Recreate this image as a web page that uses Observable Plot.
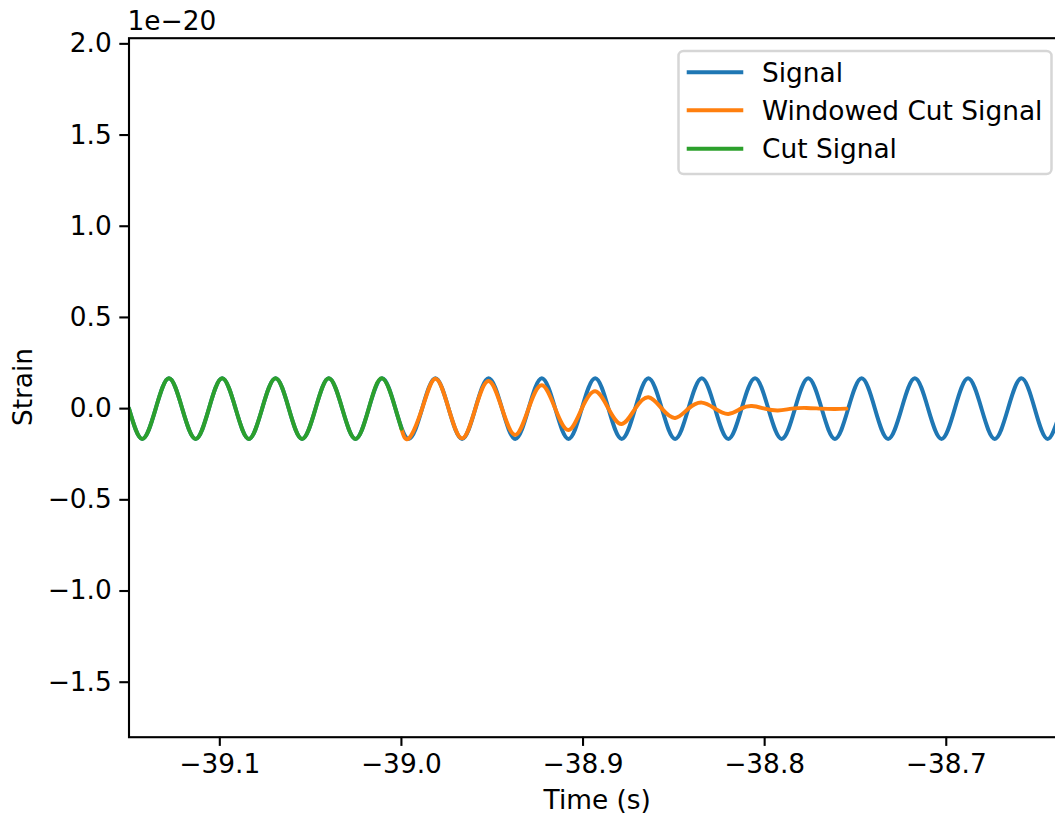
<!DOCTYPE html>
<html>
<head>
<meta charset="utf-8">
<script src="https://cdn.jsdelivr.net/npm/d3@7"></script>
<script src="https://cdn.jsdelivr.net/npm/@observablehq/plot@0.6"></script>
<style>
  html, body { margin: 0; padding: 0; background: #fff; }
  #chart { position: relative; width: 1055px; height: 815px; overflow: hidden; }
  #chart svg { display: block; max-width: none !important; }
</style>
</head>
<body>
<div id="chart"></div>
<script>
// ---- Data (strain in units of 1e-20, time in s) ----
const seriesNames = ["Signal", "Windowed Cut Signal", "Cut Signal"];
const seriesColors = ["#1f77b4", "#ff7f0e", "#2ca02c"];

// Signal: zero crossings and extrema
const signalTime = [
  -39.1500, -39.1427, -39.1353, -39.1280, -39.1207, -39.1133, -39.1060, -39.0987,
  -39.0913, -39.0840, -39.0767, -39.0693, -39.0620, -39.0547, -39.0473, -39.0400,
  -39.0326, -39.0253, -39.0180, -39.0106, -39.0033, -38.9960, -38.9886, -38.9813,
  -38.9740, -38.9666, -38.9593, -38.9520, -38.9446, -38.9373, -38.9300, -38.9227,
  -38.9153, -38.9080, -38.9007, -38.8933, -38.8860, -38.8787, -38.8713, -38.8640,
  -38.8566, -38.8493, -38.8420, -38.8346, -38.8273, -38.8200, -38.8127, -38.8053,
  -38.7980, -38.7906, -38.7833, -38.7760, -38.7686, -38.7613, -38.7540, -38.7466,
  -38.7393, -38.7320, -38.7246, -38.7173, -38.7100, -38.7026, -38.6953, -38.6880,
  -38.6806, -38.6733, -38.6660, -38.6586, -38.6513, -38.6440, -38.6366, -38.6293
];
const signalStrain = [
  0, -0.166, 0, 0.166, 0, -0.166, 0, 0.166,
  0, -0.166, 0, 0.166, 0, -0.166, 0, 0.166,
  0, -0.166, 0, 0.166, 0, -0.166, 0, 0.166,
  0, -0.166, 0, 0.166, 0, -0.166, 0, 0.166,
  0, -0.166, 0, 0.166, 0, -0.166, 0, 0.166,
  0, -0.166, 0, 0.166, 0, -0.166, 0, 0.166,
  0, -0.166, 0, 0.166, 0, -0.166, 0, 0.166,
  0, -0.166, 0, 0.166, 0, -0.166, 0, 0.166,
  0, -0.166, 0, 0.166, 0, -0.166, 0, 0.166
];

// Cut Signal (green): the signal up to t = -39.0
const cutTime = [
  -39.1500, -39.1427, -39.1353, -39.1280, -39.1207, -39.1133, -39.1060, -39.0987,
  -39.0913, -39.0840, -39.0767, -39.0693, -39.0620, -39.0547, -39.0473, -39.0400,
  -39.0326, -39.0253, -39.0180, -39.0106, -39.0033, -39.0000
];
const cutStrain = [
  0, -0.166, 0, 0.166, 0, -0.166, 0, 0.166,
  0, -0.166, 0, 0.166, 0, -0.166, 0, 0.166,
  0, -0.166, 0, 0.166, 0, -0.110
];

// Windowed Cut Signal (orange): tapered from t = -39.0 to about -38.755
const windowedTime = [
  -39.0000, -38.9960, -38.9886, -38.9813, -38.9740, -38.9666, -38.9593, -38.9520,
  -38.9446, -38.9373, -38.9300, -38.9227, -38.9153, -38.9080, -38.9007, -38.8933,
  -38.8860, -38.8787, -38.8713, -38.8640, -38.8566, -38.8493, -38.8420, -38.8346,
  -38.8273, -38.8200, -38.8130, -38.8070, -38.8000, -38.7927, -38.7850, -38.7770,
  -38.7690, -38.7613, -38.7550
];
const windowedStrain = [
  -0.110, -0.164, 0, 0.164, 0, -0.163, 0, 0.152,
  0, -0.144, 0, 0.128, 0, -0.117, 0, 0.095,
  0, -0.084, 0, 0.062, 0, -0.051, 0, 0.033,
  0, -0.029, 0, 0.014, 0, -0.010, 0, 0.004,
  0, -0.002, 0
];

const xTicks = [-39.1, -39.0, -38.9, -38.8, -38.7];
const yTicks = [-1.5, -1.0, -0.5, 0.0, 0.5, 1.0, 1.5, 2.0];
const xDomain = [-39.15, -38.6338];
const yDomain = [-1.8015, 2.031];
const xLabel = "Time (s)";
const yLabel = "Strain";
const offsetText = "1e\u221220";

// ---- Build tables ----
const toRows = (ts, vs) => ts.map((t, i) => ({t, v: vs[i]}));
const signalRows = toRows(signalTime, signalStrain);
const windowedRows = toRows(windowedTime, windowedStrain);
const cutRows = toRows(cutTime, cutStrain);

const fmt = d3.format(".1f");
const FONT = "DejaVu Sans, Bitstream Vera Sans, sans-serif";
const FS = 26.4;
const LW = 3.96;

const svg = Plot.plot({
  width: 1066,
  height: 815,
  marginLeft: 128.5,
  marginRight: 0,
  marginTop: 37.7,
  marginBottom: 78.3,
  style: {fontFamily: FONT, fontSize: FS + "px", color: "black", background: "white", overflow: "visible", maxWidth: "none"},
  x: {domain: xDomain},
  y: {domain: yDomain},
  marks: [
    Plot.line(signalRows, {x: "t", y: "v", stroke: seriesColors[0], strokeWidth: LW, curve: "natural", clip: true}),
    Plot.line(windowedRows, {x: "t", y: "v", stroke: seriesColors[1], strokeWidth: LW, curve: "natural", clip: true}),
    Plot.line(cutRows, {x: "t", y: "v", stroke: seriesColors[2], strokeWidth: LW, curve: "natural", clip: true}),
    Plot.frame({stroke: "black", strokeWidth: 2.1}),
    Plot.axisX({ticks: xTicks, tickFormat: fmt, tickSize: 9.2, tickPadding: 8, strokeWidth: 2.1, fontSize: FS, label: null}),
    Plot.axisY({ticks: yTicks, tickFormat: fmt, tickSize: 9.2, tickPadding: 8, strokeWidth: 2.1, fontSize: FS, label: null})
  ]
});

document.getElementById("chart").appendChild(svg);

// ---- Axis labels, offset text and legend ----
const s = d3.select(svg);
s.append("text").attr("x", 127.5).attr("y", 30).attr("text-anchor", "start")
  .attr("font-family", FONT).attr("font-size", FS).attr("fill", "black").text(offsetText);
s.append("text").attr("transform", "translate(32,387) rotate(-90)").attr("text-anchor", "middle")
  .attr("font-family", FONT).attr("font-size", FS).attr("fill", "black").text(yLabel);
s.append("text").attr("x", 597.25).attr("y", 809).attr("text-anchor", "middle")
  .attr("font-family", FONT).attr("font-size", FS).attr("fill", "black").text(xLabel);

const lg = s.append("g");
lg.append("rect").attr("x", 678.5).attr("y", 51).attr("width", 373).attr("height", 123)
  .attr("rx", 5).attr("fill", "white").attr("fill-opacity", 0.8)
  .attr("stroke", "#d6d6d6").attr("stroke-width", 2.5);
const rowY = [72.3, 110.3, 148.7];
seriesNames.forEach((name, i) => {
  lg.append("line").attr("x1", 688.7).attr("x2", 741.3).attr("y1", rowY[i]).attr("y2", rowY[i])
    .attr("stroke", seriesColors[i]).attr("stroke-width", LW).attr("stroke-linecap", "square");
  lg.append("text").attr("x", 762).attr("y", rowY[i] + 9.6).attr("text-anchor", "start")
    .attr("font-family", FONT).attr("font-size", FS).attr("fill", "black").text(name);
});
</script>
</body>
</html>
